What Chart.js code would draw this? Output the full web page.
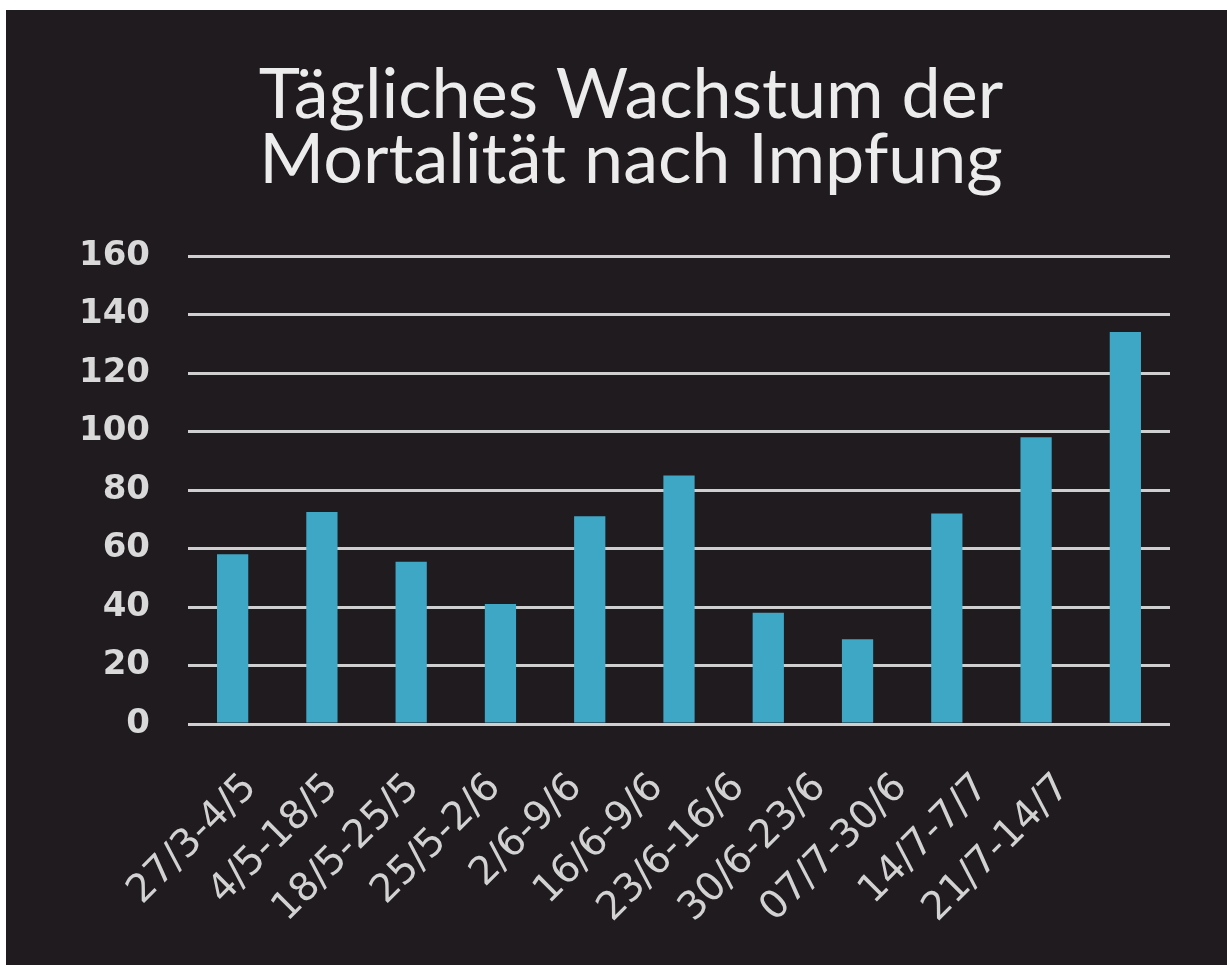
<!DOCTYPE html>
<html>
<head>
<meta charset="utf-8">
<script src="https://cdn.jsdelivr.net/npm/chart.js@4"></script>
<style>
  html, body { margin: 0; padding: 0; background: #fff; }
  #caja { position: absolute; left: 6px; top: 10px; width: 1221px; height: 955px; background: #1f1b1f; }
</style>
</head>
<body>
<div id="caja"><canvas id="grafico" width="1221" height="955"></canvas></div>
<script>
// datos del grafico
const titulo = ['Tägliches Wachstum der', 'Mortalität nach Impfung'];
const fechas = ['27/3-4/5', '4/5-18/5', '18/5-25/5', '25/5-2/6', '2/6-9/6', '16/6-9/6',
  '23/6-16/6', '30/6-23/6', '07/7-30/6', '14/7-7/7', '21/7-14/7'];
const valores = [58, 72.5, 55.5, 41, 71, 85, 38, 29, 72, 98, 134];
const ticksY = [0, 20, 40, 60, 80, 100, 120, 140, 160];

// titulo en dos lineas
const tituloPlugin = {
  id: 'titulo',
  afterDraw(chart) {
    const ctx = chart.ctx;
    ctx.save();
    ctx.fillStyle = '#ececec';
    ctx.font = '70px Lato';
    ctx.textAlign = 'center';
    titulo.forEach((t, i) => ctx.fillText(t, 625, 108 + i * 65));
    ctx.restore();
  }
};

const ctx = document.getElementById('grafico');

new Chart(ctx, {
  type: 'bar',
  data: {
    labels: fechas,
    datasets: [{
      data: valores,
      backgroundColor: '#3fa7c6',
      barPercentage: 0.35,
      categoryPercentage: 1
    }]
  },
  options: {
    responsive: false,
    animation: false,
    layout: { padding: { top: 246, right: 57, left: 0, bottom: 0 } },
    plugins: { legend: { display: false }, tooltip: { enabled: false } },
    scales: {
      x: {
        ticks: { display: false },
        grid: { display: false },
        border: { display: false },
        afterFit: s => { s.height = 0; }
      },
      //eje de etiquetas (rotadas), un poco mas juntas que las barras
      xl: {
        type: 'linear',
        position: 'bottom',
        offset: false,
        min: -0.775,
        max: 11.304,
        afterBuildTicks: s => { s.ticks = fechas.map((f, i) => ({ value: i })); },
        afterFit: s => { s.height = 241; },
        grid: { display: false },
        border: { display: false },
        ticks: {
          autoSkip: false,
          minRotation: 45,
          maxRotation: 45,
          padding: 33,
          color: '#d2d2d2',
          font: { family: 'DejaVu Sans', size: 39 },
          callback: v => fechas[v]
        }
      },
      y: {
        min: ticksY[0],
        max: ticksY[ticksY.length - 1],
        afterFit: s => { s.width = 182; },
        grid: { color: '#cfcfcf', lineWidth: 3, drawTicks: false },
        border: { display: false },
        ticks: {
          stepSize: ticksY[1] - ticksY[0],
          padding: 38,
          color: '#d9d9d9',
          font: { family: 'DejaVu Sans', size: 34, weight: 'bold' }
        }
      }
    }
  },
  plugins: [tituloPlugin]
});
</script>
</body>
</html>
